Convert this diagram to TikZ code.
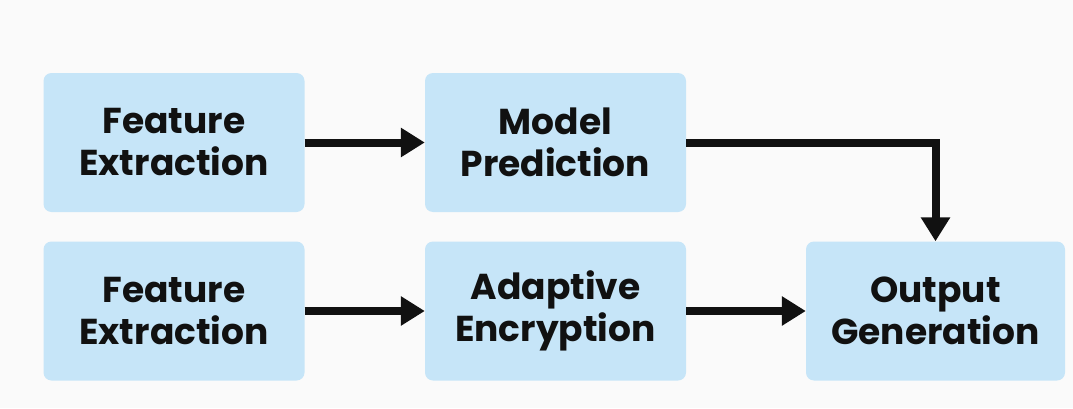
\documentclass[tikz,border=0pt]{standalone}
\usepackage{fontspec}
\setmainfont{Poppins}
\usetikzlibrary{arrows.meta}
\definecolor{bg}{HTML}{FAFAFA}
\definecolor{boxfill}{HTML}{C6E5F8}
\definecolor{ink}{HTML}{111111}
\begin{document}
\begin{tikzpicture}[x=1pt,y=1pt,
  box/.style={draw=none,fill=boxfill,rounded corners=8pt,minimum width=261pt,minimum height=139pt,
    align=center,text=ink,font=\fontsize{36}{42}\selectfont\bfseries,inner sep=0pt},
  conn/.style={draw=ink,line width=8pt,-{Triangle[length=24pt,width=28pt]}}]
\fill[bg] (0,0) rectangle (1073,408);
\useasboundingbox (0,0) rectangle (1073,408);
\node[box] (fe1) at (174,265.5) {Feature\\Extraction};
\node[box] (mp) at (555.5,265.5) {Model\\Prediction};
\node[box] (fe2) at (174,97) {Feature\\Extraction};
\node[box] (ae) at (555.5,97) {Adaptive\\Encryption};
\node[box,minimum width=259pt] (og) at (935.5,97) {Output\\Generation};
\draw[conn] (fe1.east) -- (mp.west);
\draw[conn] (fe2.east) -- (ae.west);
\draw[conn] (ae.east) -- (og.west);
\draw[conn] (mp.east) -| (og.north);
\end{tikzpicture}
\end{document}
